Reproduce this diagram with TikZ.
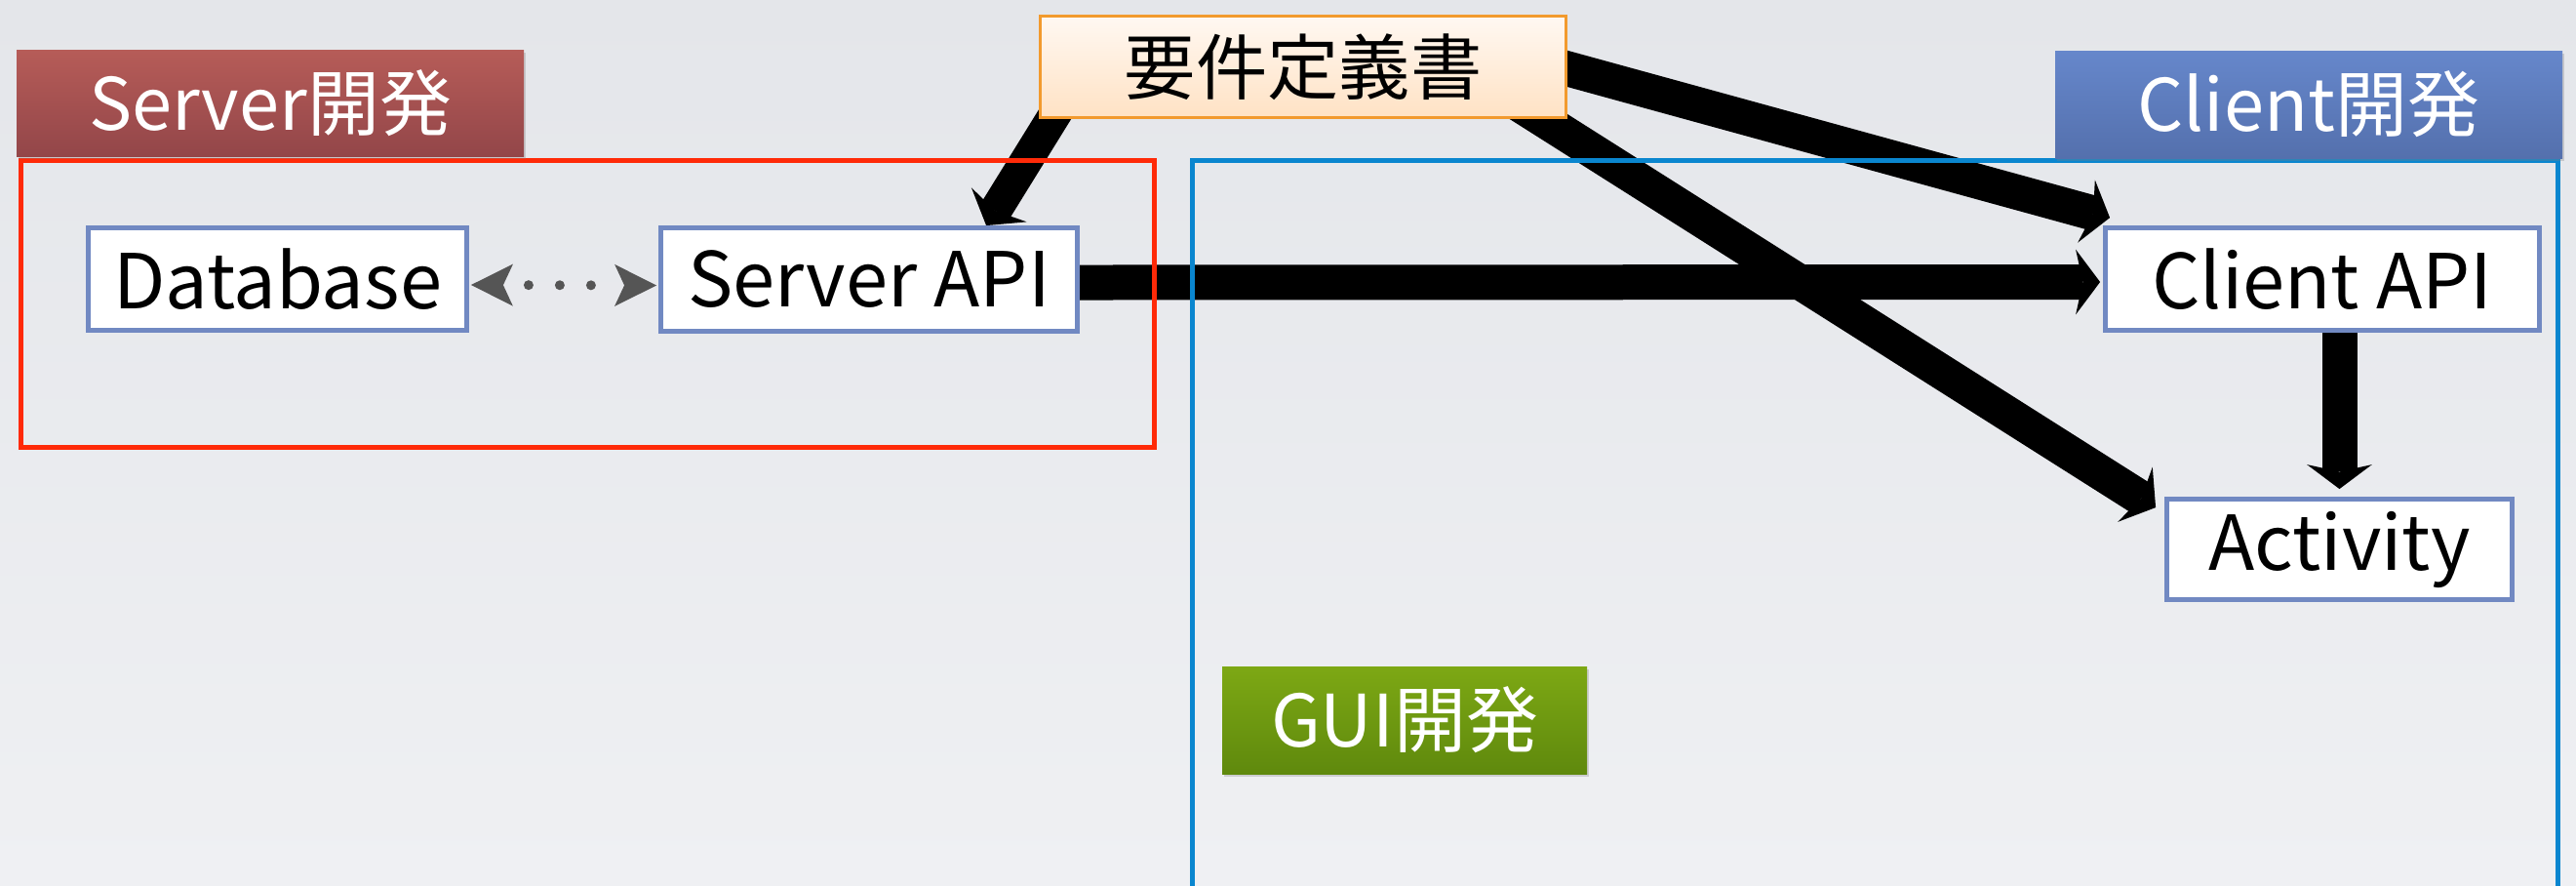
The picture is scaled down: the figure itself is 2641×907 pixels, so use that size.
\documentclass[tikz,border=0pt]{standalone}
\usepackage{fontspec}
\setmainfont{Noto Sans CJK JP}
\usetikzlibrary{arrows.meta,calc,shadows,decorations.markings}

\definecolor{bgtop}{HTML}{E4E6EA}
\definecolor{bgbot}{HTML}{EFF0F3}
\definecolor{boxline}{HTML}{7189C2}
\definecolor{srvframe}{HTML}{FF2A08}
\definecolor{cliframe}{HTML}{0A86CF}
\definecolor{srvtop}{HTML}{B65C58}
\definecolor{srvbot}{HTML}{934649}
\definecolor{clitop}{HTML}{6687CB}
\definecolor{clibot}{HTML}{5470AD}
\definecolor{guitop}{HTML}{7DA814}
\definecolor{guibot}{HTML}{5F890D}
\definecolor{reqtop}{HTML}{FFF8F2}
\definecolor{reqbot}{HTML}{FFE2C4}
\definecolor{reqline}{HTML}{F29A2E}
\definecolor{dotgray}{HTML}{555555}

\pgfdeclarelayer{bg}
\pgfdeclarelayer{links}
\pgfdeclarelayer{frames}
\pgfsetlayers{bg,links,frames,main}

\begin{document}
\begin{tikzpicture}[x=0.3pt,y=-0.3pt,
  box/.style={font=\fontsize{23.3}{27}\selectfont, draw=boxline,
    line width=1.35pt, fill=white, text=black, inner sep=0pt},
  label/.style={font=\fontsize{22.2}{26}\selectfont, text=white, inner sep=0pt,
    drop shadow={shadow xshift=0.5pt, shadow yshift=-0.8pt, opacity=0.3}},
  reqbox/.style={draw=reqline, line width=0.9pt, top color=reqtop,
    bottom color=reqbot, text=black, inner sep=0pt,
    font=\fontsize{22}{26}\selectfont},
  frame/.style={line width=1.5pt},
  bigarrow/.style={line width=10.8pt,
    -{Stealth[length=7.5pt, width=20pt, inset=2.2pt, line width=0pt]}},
  slimarrow/.style={bigarrow, line width=10pt},
  dotlink/.style={decorate, decoration={markings,
    mark=at position 0.6pt with {\arrowreversed[dotgray]{Stealth[length=12.9pt, width=12.9pt, inset=3pt, line width=0pt]}},
    mark=at position -0.6pt with {\arrow[dotgray]{Stealth[length=12.9pt, width=12.9pt, inset=3pt, line width=0pt]}},
    mark=at position 18.3pt with {\fill[dotgray] (0,0) circle (1.5pt);},
    mark=at position 27.9pt with {\fill[dotgray] (0,0) circle (1.5pt);},
    mark=at position 37.5pt with {\fill[dotgray] (0,0) circle (1.5pt);}}}
]

% page background
\begin{pgfonlayer}{bg}
  \shade[top color=bgtop, bottom color=bgbot] (0,0) rectangle (2641,907);
\end{pgfonlayer}
\useasboundingbox (0,0) rectangle (2641,907);

% team labels
\node[label, top color=srvtop, bottom color=srvbot,
  minimum width=156pt, minimum height=32.7pt] (srvlab) at (277,105.5) {Server開発};
\node[label, top color=clitop, bottom color=clibot,
  minimum width=156pt, minimum height=33pt] (clilab) at (2367,107) {Client開発};
\node[label, top color=guitop, bottom color=guibot,
  minimum width=112.2pt, minimum height=33pt] (guilab) at (1440,738) {GUI開発};

% specification document
\node[reqbox, minimum width=161.7pt, minimum height=31.2pt] (req) at (1336,68.5) {要件定義書};

% components
\node[box, minimum width=116.5pt, minimum height=31.6pt] (db)   at (284.5,286) {Database};
\node[box, minimum width=128.2pt, minimum height=31.9pt] (sapi) at (891,286.5) {Server API};
\node[box, minimum width=133.6pt, minimum height=31.6pt] (capi) at (2381,286) {Client API};
\node[box, minimum width=106.3pt, minimum height=31pt]   (act)  at (2398.5,563) {Activity};

% development areas
\begin{pgfonlayer}{frames}
  \draw[frame, draw=srvframe] (21.5,164) rectangle (1183.5,458.5);
  \draw[frame, draw=cliframe] (1222.5,915) -- (1222.5,164) -- (2622.5,164) -- (2622.5,915);
\end{pgfonlayer}

% dependencies
\begin{pgfonlayer}{links}
  \draw[slimarrow] ($(req.south west)+(47,-54)$) -- ($(sapi.north west)+(336,0)$);
  \draw[bigarrow] ($(req.north east)+(-107,26)$) -- ($(capi.north west)+(7,-8)$);
  \draw[bigarrow] ($(req.south east)+(-92,-42)$) -- ($(act.north west)+(-9,11)$);
  \draw[bigarrow] ($(sapi.east)+(0,3)$) -- ($(capi.west)+(-3,3)$);
  \draw[bigarrow] (act.north |- capi.south) -- ($(act.north)+(0,-8)$);
\end{pgfonlayer}
\path[dotlink] ($(db.east)+(0,6)$) -- ($(sapi.west)+(0,6)$);

\end{tikzpicture}
\end{document}
